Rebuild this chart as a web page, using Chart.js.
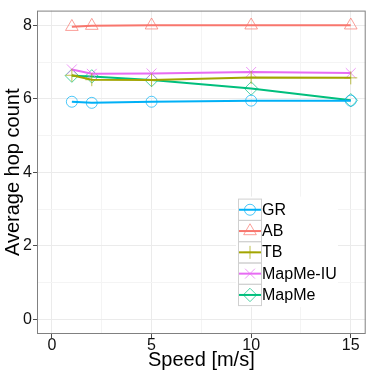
<!DOCTYPE html>
<html>
<head>
<meta charset="utf-8">
<script src="https://cdn.jsdelivr.net/npm/chart.js@4.4.1/dist/chart.umd.min.js"></script>
<style>
  html, body { margin: 0; padding: 0; background: #fff; }
  #wrap { width: 374px; height: 374px; }
</style>
</head>
<body>
<div id="wrap"><canvas id="myChart"></canvas></div>
<script>
var speeds = [1, 2, 5, 10, 15];
var seriesNames = ['GR', 'AB', 'TB', 'MapMe-IU', 'MapMe'];
var grValues = [5.92, 5.89, 5.92, 5.95, 5.95];
var abValues = [7.96, 7.99, 8.0, 8.0, 8.0];
var tbValues = [6.64, 6.52, 6.51, 6.58, 6.57];
var iuValues = [6.80, 6.68, 6.69, 6.73, 6.70];
var mapmeValues = [6.63, 6.61, 6.51, 6.28, 5.96];
var xTicks = [0, 5, 10, 15];
var yTicks = [0, 2, 4, 6, 8];

var colors = ['#00B0F6', '#F8766D', '#A3A500', '#E76BF3', '#00BF7D'];
var markerColors = ['rgba(0,176,246,0.7)', 'rgba(248,118,109,0.7)', 'rgba(163,165,0,0.7)',
                    'rgba(231,107,243,0.7)', 'rgba(0,191,125,0.7)'];
var shapes = ['circle', 'triangle', 'cross', 'crossRot', 'rectRot'];
var radii = [5.5, 7.3, 6.5, 7, 6.7];
var allValues = [grValues, abValues, tbValues, iuValues, mapmeValues];

function points(vals) {
  return speeds.map(function (s, i) { return { x: s, y: vals[i] }; });
}

function isMajor(v, list) {
  return list.some(function (t) { return Math.abs(t - v) < 1e-6; });
}

var datasets = seriesNames.map(function (name, i) {
  return {
    label: name,
    data: points(allValues[i]),
    borderColor: colors[i],
    borderWidth: 2,
    pointStyle: shapes[i],
    pointRadius: radii[i],
    pointHoverRadius: radii[i],
    pointBorderColor: markerColors[i],
    pointBackgroundColor: 'rgba(0,0,0,0)',
    pointBorderWidth: 1,
    fill: false,
    tension: 0
  };
});

var panelPlugin = {
  id: 'panel',
  afterDraw: function (chart) {
    var c = chart.ctx, a = chart.chartArea;
    c.save();
    // legend
    var lx = a.left + 201, ly = a.top + 188, kw = 23, kh = 21.3;
    c.fillStyle = '#fff';
    c.fillRect(lx - 2, ly - 2, 102, kh * 5 + 4);
    c.font = '16px "Liberation Sans", Arial, sans-serif';
    c.textBaseline = 'middle';
    seriesNames.forEach(function (name, i) {
      var ky = ly + i * kh;
      c.strokeStyle = '#d0d0d0';
      c.lineWidth = 1;
      c.strokeRect(lx + 0.5, ky + 0.5, kw, kh);
      c.strokeStyle = colors[i];
      c.lineWidth = 2;
      c.beginPath();
      c.moveTo(lx + 1, ky + kh / 2 + 0.5);
      c.lineTo(lx + kw, ky + kh / 2 + 0.5);
      c.stroke();
      c.strokeStyle = markerColors[i];
      c.fillStyle = 'rgba(0,0,0,0)';
      c.lineWidth = 1;
      Chart.helpers.drawPoint(c, { pointStyle: shapes[i], radius: radii[i], rotation: 0, borderWidth: 1 },
        lx + kw / 2 + 0.5, ky + kh / 2 + 0.5);
      c.fillStyle = '#000';
      c.fillText(name, lx + kw + 1, ky + kh / 2 + 1);
    });
    // panel border
    c.strokeStyle = '#808080';
    c.lineWidth = 1;
    c.strokeRect(a.left + 0.5, a.top + 0.5, a.right - a.left - 1, a.bottom - a.top - 1);
    c.restore();
  }
};

var ctx = document.getElementById('myChart').getContext('2d');
var chart = new Chart(ctx, {
  type: 'line',
  data: { datasets: datasets },
  plugins: [panelPlugin],
  options: {
    responsive: true,
    maintainAspectRatio: false,
    animation: false,
    layout: { padding: { top: 4, right: 5, left: 0, bottom: 0 } },
    plugins: { legend: { display: false }, tooltip: { enabled: false } },
    scales: {
      x: {
        type: 'linear',
        min: -0.75,
        max: 15.75,
        afterFit: function (s) { s.height = 40; },
        border: { display: false },
        grid: {
          color: function (c) { return isMajor(c.tick.value, xTicks) ? '#ebebeb' : '#f4f4f4'; },
          tickColor: function (c) { return isMajor(c.tick.value, xTicks) ? '#4d4d4d' : 'rgba(0,0,0,0)'; },
          tickLength: 4
        },
        ticks: {
          stepSize: 2.5,
          includeBounds: false,
          autoSkip: false,
          maxRotation: 0,
          padding: -2,
          color: '#111',
          font: { family: '"Liberation Sans", Arial, sans-serif', size: 16 },
          callback: function (v) { return isMajor(v, xTicks) ? String(Math.round(v)) : ''; }
        },
        title: {
          display: true,
          text: 'Speed [m/s]',
          color: '#000',
          font: { family: '"Liberation Sans", Arial, sans-serif', size: 20 },
          padding: { top: 0, bottom: 2 }
        }
      },
      y: {
        min: -0.4,
        max: 8.4,
        afterFit: function (s) { s.width = 37; },
        border: { display: false },
        grid: {
          color: function (c) { return isMajor(c.tick.value, yTicks) ? '#ebebeb' : '#f4f4f4'; },
          tickColor: function (c) { return isMajor(c.tick.value, yTicks) ? '#4d4d4d' : 'rgba(0,0,0,0)'; },
          tickLength: 4
        },
        ticks: {
          stepSize: 1,
          includeBounds: false,
          autoSkip: false,
          padding: 1,
          color: '#111',
          font: { family: '"Liberation Sans", Arial, sans-serif', size: 16 },
          callback: function (v) { return isMajor(v, yTicks) ? String(Math.round(v)) : ''; }
        },
        title: {
          display: true,
          text: 'Average hop count',
          color: '#000',
          font: { family: '"Liberation Sans", Arial, sans-serif', size: 20 },
          padding: { top: 1, bottom: 0 }
        }
      }
    }
  }
});
</script>
</body>
</html>
